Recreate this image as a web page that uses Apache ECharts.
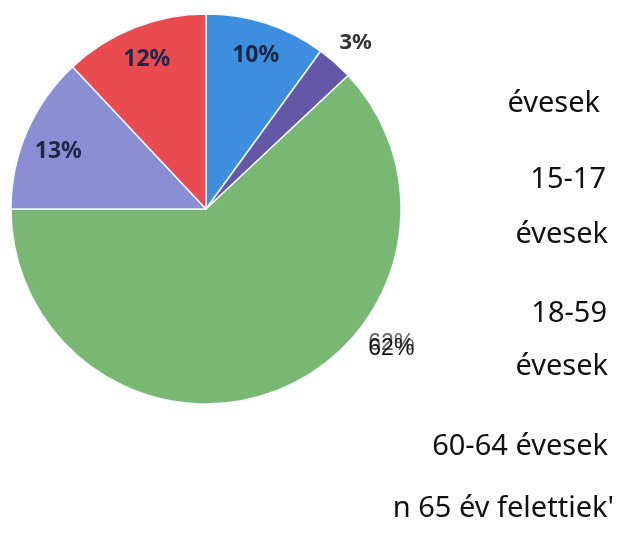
<!DOCTYPE html>
<html>
<head>
<meta charset="utf-8">
<script src="https://cdn.jsdelivr.net/npm/echarts@6/dist/echarts.min.js"></script>
<style>
  html, body { margin: 0; padding: 0; background: #fff; }
  #chart { width: 627px; height: 534px; }
</style>
</head>
<body>
<div id="chart"></div>
<script>
// age groups (clockwise from 12 o'clock)
var categories = ['0-14 évesek', '15-17 évesek', '18-59 évesek', '60-64 évesek', '65 év felettiek'];
var values = [10, 3, 62, 13, 12];
var colors = ['#3d8ede', '#6457a8', '#78b873', '#8a8ed2', '#e94b50'];

// wrapped legend fragments on the right
var legendLines = ['évesek', '15-17', 'évesek', '18-59', 'évesek', '60-64 évesek', "n 65 év felettiek'"];
var legendY = [102, 178, 233, 312, 365, 445, 507];
var legendRight = [600, 606, 608, 607, 608, 608, 614];

var cx = 206, cy = 209, R = 195;

var chart = echarts.init(document.getElementById('chart'));

function pctLabel(p) {
    return Math.round(p.percent) + '%';
}

var baseData = categories.map(function (name, i) {
    return { name: name, value: values[i], itemStyle: { color: colors[i] } };
});

// transparent copy used only to carry labels at a given ring
function labelData(showIdx, styleFor) {
    return categories.map(function (name, i) {
        var show = showIdx.indexOf(i) >= 0;
        var lab = { show: show };
        if (show && styleFor) Object.assign(lab, styleFor(i));
        return { name: name, value: values[i], label: lab };
    });
}

// where the big slice's label sits (outside, lower right)
function bigLabelPos(shiftY) {
    var a = 127 * Math.PI / 180;
    return {
        x: cx + Math.sin(a) * R * 1.19,
        y: cy - Math.cos(a) * R * 1.19 + shiftY,
        align: 'center',
        verticalAlign: 'middle'
    };
}

var option = {
    animation: false,
    series: [
        {
            type: 'pie',
            center: [cx, cy],
            radius: [0, R],
            startAngle: 90,
            clockwise: true,
            label: { show: false },
            labelLine: { show: false },
            itemStyle: { borderColor: '#f4f8ff', borderWidth: 1.5 },
            data: baseData,
            silent: true
        },
        {
            // inner labels at ~0.81 R
            type: 'pie',
            center: [cx, cy],
            radius: [R * 0.62, R],
            startAngle: 90,
            clockwise: true,
            silent: true,
            itemStyle: { color: 'rgba(0,0,0,0)' },
            labelLine: { show: false },
            label: {
                position: 'inside',
                formatter: pctLabel,
                color: '#1c2848',
                fontFamily: 'Noto Sans',
                fontWeight: 'bold',
                fontSize: 23
            },
            data: labelData([0, 2, 3, 4], function (i) {
                if (i === 2) return { color: '#666', fontWeight: 'normal', fontFamily: 'Liberation Sans', fontSize: 23 };
                return {};
            }),
            labelLayout: function (p) {
                if (p.dataIndex === 2) return bigLabelPos(-5);
                if (p.dataIndex === 3) return { dy: 6 };
            }
        },
        {
            // outer labels
            type: 'pie',
            center: [cx, cy],
            radius: [R, R * 1.29],
            startAngle: 90,
            clockwise: true,
            silent: true,
            itemStyle: { color: 'rgba(0,0,0,0)' },
            labelLine: { show: false },
            label: {
                position: 'inside',
                formatter: pctLabel,
                color: '#333',
                fontFamily: 'Noto Sans',
                fontWeight: 'bold',
                fontSize: 22
            },
            data: labelData([1, 2], function (i) {
                if (i === 2) return { color: '#111', fontWeight: 'normal', fontFamily: 'Liberation Sans', fontSize: 23 };
                return {};
            }),
            labelLayout: function (p) {
                if (p.dataIndex === 2) return bigLabelPos(0);
                if (p.dataIndex === 1) return { dy: 3 };
            }
        }
    ],
    graphic: legendLines.map(function (t, i) {
        return {
            type: 'text',
            right: 627 - legendRight[i],
            top: legendY[i] - 13,
            style: {
                text: t,
                fill: '#111',
                font: '29px "Noto Sans"',
                textAlign: 'right'
            }
        };
    })
};

chart.setOption(option);
</script>
</body>
</html>
